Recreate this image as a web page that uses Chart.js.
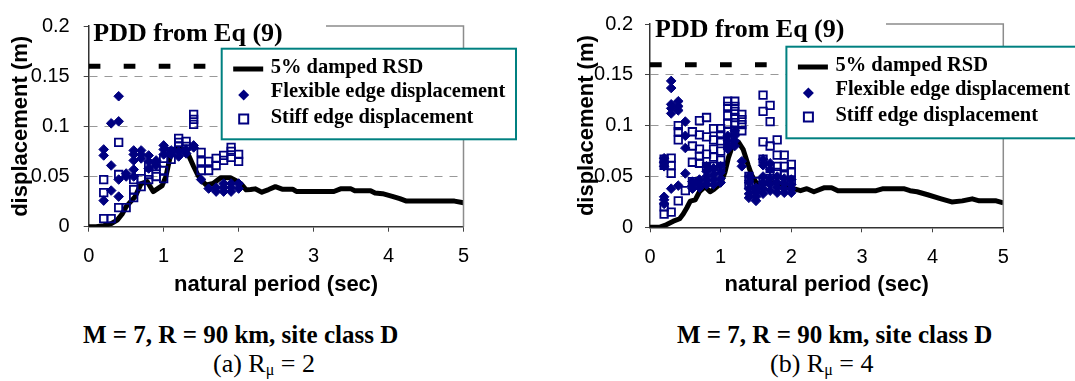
<!DOCTYPE html>
<html>
<head>
<meta charset="utf-8">
<title>PDD vs RSD</title>
<script src="https://cdn.jsdelivr.net/npm/chart.js@4.4.0/dist/chart.umd.min.js"></script>
<style>
    body { margin: 0; background: #fff; }
    #wrap { position: relative; width: 1075px; height: 381px; overflow: hidden; background: #fff; }
    #wrap canvas { position: absolute; top: 0; }
    #chartA { left: 0; }
    #chartB { left: 535px; }
    .cap {
        position: absolute;
        font-family: 'Liberation Serif', 'Times New Roman', serif;
        font-size: 25px;
        line-height: 1;
        color: #000;
        white-space: nowrap;
    }
    .cap.head { font-weight: bold; }
    .cap.sub2 { font-size: 26px; }
    .cap sub { font-size: 16px; line-height: 0; vertical-align: -3px; }
</style>
</head>
<body>
<div id="wrap">
    <canvas id="chartA" width="535" height="300"></canvas>
    <canvas id="chartB" width="540" height="300"></canvas>
    <div class="cap head" style="left:83px; top:322px">M = 7, R = 90 km, site class D</div>
    <div class="cap sub2" style="left:213px; top:351px">(a) R<sub>μ</sub> = 2</div>
    <div class="cap head" style="left:677px; top:322px">M = 7, R = 90 km, site class D</div>
    <div class="cap sub2" style="left:770px; top:351px">(b) R<sub>μ</sub> = 4</div>
</div>

<script>
// ============================================
// Data
// ============================================

// PDD from Eq (9), horizontal level
const pddT = [0, 5];
const pddD = [0.16, 0.16];

// 5% damped RSD, R_mu = 2
const rsdA_T = [0, 0.1, 0.2, 0.3, 0.38, 0.45, 0.5, 0.56, 0.62, 0.7, 0.78, 0.86, 0.92, 0.98,
    1.03, 1.07, 1.11, 1.2, 1.3, 1.34, 1.4, 1.46, 1.52, 1.57, 1.66, 1.76, 1.89, 1.96, 2.03,
    2.1, 2.16, 2.22, 2.31, 2.4, 2.49, 2.58, 2.72, 2.77, 3.27, 3.36, 3.5, 3.55, 3.76, 3.82,
    3.92, 4.05, 4.15, 4.24, 4.88, 5.0];
const rsdA_D = [0, 0, 0.001, 0.003, 0.0065, 0.013, 0.02, 0.025, 0.03, 0.043, 0.045, 0.035, 0.038, 0.041,
    0.05, 0.064, 0.0765, 0.078, 0.077, 0.07, 0.06, 0.051, 0.045, 0.0415, 0.043, 0.0488, 0.0488, 0.046, 0.043,
    0.0367, 0.037, 0.0377, 0.0344, 0.037, 0.0399, 0.0374, 0.0374, 0.0351, 0.0351, 0.0377, 0.0377, 0.0358, 0.0358, 0.0335,
    0.0329, 0.0303, 0.028, 0.0255, 0.0255, 0.0239];

// 5% damped RSD, R_mu = 4
const rsdB_T = [0, 0.13, 0.23, 0.33, 0.42, 0.47, 0.52, 0.57, 0.64, 0.7, 0.78, 0.85, 0.9, 1.0,
    1.06, 1.11, 1.18, 1.25, 1.32, 1.39, 1.44, 1.51, 1.59, 1.8, 1.98, 2.13, 2.22, 2.32, 2.47,
    2.57, 2.66, 3.2, 3.3, 3.59, 3.68, 3.78, 3.93, 4.12, 4.27, 4.42, 4.56, 4.66, 4.9, 5.0];
const rsdB_D = [0, 0, 0.0025, 0.006, 0.0084, 0.013, 0.019, 0.0257, 0.027, 0.035, 0.04, 0.035, 0.037, 0.043,
    0.054, 0.0685, 0.0827, 0.084, 0.0764, 0.061, 0.0511, 0.043, 0.043, 0.044, 0.039, 0.036, 0.038, 0.035, 0.039,
    0.039, 0.036, 0.036, 0.038, 0.038, 0.036, 0.035, 0.032, 0.028, 0.025, 0.026, 0.028, 0.026, 0.026, 0.024];

// natural periods of the analysed systems
const periods = [0.2, 0.3, 0.4, 0.5, 0.6, 0.7, 0.8, 0.9, 1.0, 1.1,
    1.2, 1.3, 1.4, 1.5, 1.6, 1.7, 1.8, 1.9, 2.0];

// edge displacements (m), one list per period, R_mu = 2
const flexA = [
    [0.077, 0.071, 0.026], [0.103, 0.061, 0.036], [0.130, 0.105, 0.047, 0.030], [0.053, 0.050],
    [0.076, 0.072, 0.066, 0.057, 0.050], [0.076, 0.072, 0.068], [0.071, 0.065, 0.058], [0.066, 0.061],
    [0.081, 0.077, 0.072], [0.076, 0.072], [0.075, 0.070], [0.077, 0.073], [0.081, 0.079],
    [0.047], [0.038], [0.039, 0.035], [0.043, 0.039, 0.035], [0.043, 0.039, 0.035], [0.043, 0.038]
];
const stiffA = [
    [0.047, 0.034, 0.008], [0.008], [0.084, 0.052, 0.019], [0.019],
    [0.047, 0.037, 0.029], [0.048, 0.040], [0.061, 0.052, 0.047], [0.060, 0.050],
    [0.068, 0.056, 0.048], [0.075, 0.067], [0.088, 0.084, 0.080], [0.085, 0.080], [0.112, 0.107, 0.102],
    [0.074, 0.065, 0.056], [0.065, 0.056], [0.068, 0.061], [0.071, 0.066], [0.079, 0.075, 0.069], [0.072, 0.065]
];

// edge displacements (m), one list per period, R_mu = 4
const flexB = [
    [0.068, 0.064, 0.060, 0.030, 0.027, 0.023], [0.144, 0.137, 0.121, 0.117, 0.112, 0.038],
    [0.124, 0.119, 0.115, 0.041], [0.104, 0.090, 0.078, 0.053], [0.045, 0.041, 0.038],
    [0.047, 0.043, 0.039], [0.060, 0.055, 0.050, 0.046, 0.042], [0.058, 0.052, 0.047, 0.042],
    [0.060, 0.054, 0.048, 0.044], [0.090, 0.085, 0.080, 0.077], [0.095, 0.090, 0.085, 0.080],
    [0.065, 0.060], [0.050, 0.044, 0.038, 0.033, 0.029], [0.039, 0.035, 0.030, 0.026],
    [0.067, 0.061, 0.050, 0.044, 0.038, 0.033], [0.063, 0.057, 0.048, 0.042, 0.036],
    [0.050, 0.044, 0.039, 0.034], [0.048, 0.043, 0.038, 0.034], [0.047, 0.042, 0.038, 0.034]
];
const stiffB = [
    [0.067, 0.061, 0.020, 0.013], [0.068, 0.061, 0.053, 0.015], [0.100, 0.094, 0.086, 0.026], [0.036],
    [0.094, 0.080, 0.064, 0.045], [0.105, 0.091, 0.077, 0.070, 0.063], [0.108, 0.089, 0.072, 0.060],
    [0.097, 0.086, 0.077, 0.069, 0.060], [0.097, 0.091, 0.085, 0.075, 0.066, 0.060],
    [0.124, 0.119, 0.110, 0.102, 0.094, 0.086], [0.124, 0.119, 0.114, 0.108, 0.103, 0.095],
    [0.111, 0.106, 0.101, 0.095], [0.050, 0.042], [0.045, 0.037], [0.130, 0.114, 0.084, 0.067, 0.045],
    [0.120, 0.104, 0.080, 0.058, 0.048], [0.086, 0.071, 0.060, 0.054], [0.071, 0.060, 0.051], [0.062, 0.054, 0.046]
];

// ============================================
// Styles
// ============================================
const SANS = "'Liberation Sans', Arial, sans-serif";
const SERIF = "'Liberation Serif', 'Times New Roman', serif";
const NAVY = '#000080';
const tickFont = { family: SANS, size: 20 };
const axisTitleFont = { family: SANS, size: 22, weight: 'bold' };

function toLine(ts, ds) {
    return ts.map((t, i) => ({ x: t, y: ds[i] }));
}

function toPoints(ts, lists) {
    const pts = [];
    ts.forEach((t, i) => lists[i].forEach(d => pts.push({ x: t, y: d })));
    return pts;
}

// ============================================
// Frame, title and legend box drawn over the plot
// ============================================
const decorPlugin = {
    id: 'decor',
    afterDraw(chart, args, o) {
        const { ctx, chartArea: a } = chart;
        ctx.save();

        // grey top / right frame
        ctx.strokeStyle = '#8c8c8c';
        ctx.lineWidth = 1.5;
        ctx.beginPath();
        ctx.moveTo(o.frameStart, a.top);
        ctx.lineTo(a.right, a.top);
        ctx.lineTo(a.right, a.bottom);
        ctx.stroke();

        // PDD label
        ctx.fillStyle = '#000';
        ctx.font = `bold 26px ${SERIF}`;
        ctx.textBaseline = 'alphabetic';
        ctx.fillText('PDD from Eq (9)', o.titleX, o.titleY);

        // legend box
        const L = o.legend;
        ctx.fillStyle = '#fff';
        ctx.fillRect(L.x, L.y, L.w, L.h);
        ctx.strokeStyle = '#008080';
        ctx.lineWidth = 2;
        ctx.strokeRect(L.x, L.y, L.w, L.h);

        const ds = chart.data.datasets;

        // RSD line sample
        ctx.strokeStyle = ds[1].borderColor;
        ctx.lineWidth = 5;
        ctx.beginPath();
        ctx.moveTo(L.x + 11.5, L.y + 20.3);
        ctx.lineTo(L.x + 41.5, L.y + 20.3);
        ctx.stroke();

        // diamond sample
        const dx = L.x + 22, dy = L.y + 46.3, r = 5.5;
        ctx.fillStyle = ds[2].pointBackgroundColor;
        ctx.beginPath();
        ctx.moveTo(dx, dy - r);
        ctx.lineTo(dx + r, dy);
        ctx.lineTo(dx, dy + r);
        ctx.lineTo(dx - r, dy);
        ctx.closePath();
        ctx.fill();

        // square sample
        ctx.strokeStyle = ds[3].pointBorderColor;
        ctx.lineWidth = 2;
        ctx.strokeRect(L.x + 22 - 4.5, L.y + 70.3 - 4.5, 9, 9);

        ctx.fillStyle = '#000';
        ctx.font = `bold 20.5px ${SERIF}`;
        ctx.fillText(ds[1].label, L.x + 49, L.y + 24);
        ctx.fillText(ds[2].label, L.x + 49, L.y + 48.6);
        ctx.fillText(ds[3].label, L.x + 49, L.y + 74.6);

        ctx.restore();
    }
};

// ============================================
// Build one panel
// ============================================
function buildChart(canvasId, p) {
    return new Chart(document.getElementById(canvasId), {
        type: 'scatter',
        data: {
            datasets: [
                {
                    label: 'PDD from Eq (9)',
                    data: toLine(pddT, pddD),
                    showLine: true,
                    borderColor: '#000',
                    borderWidth: 5,
                    borderDash: [11.7, 23.3],
                    borderCapStyle: 'butt',
                    pointRadius: 0,
                    order: 4
                },
                {
                    label: '5% damped RSD',
                    data: toLine(p.rsdT, p.rsdD),
                    showLine: true,
                    borderColor: '#000',
                    borderWidth: 5,
                    borderJoinStyle: 'round',
                    pointRadius: 0,
                    order: 3
                },
                {
                    label: 'Flexible edge displacement',
                    data: toPoints(periods, p.flex),
                    pointStyle: 'rectRot',
                    pointRadius: 4.8,
                    pointBackgroundColor: NAVY,
                    pointBorderColor: NAVY,
                    pointBorderWidth: 1,
                    order: 2
                },
                {
                    label: 'Stiff edge displacement',
                    data: toPoints(periods, p.stiff),
                    pointStyle: 'rect',
                    pointRadius: 5.3,
                    pointBackgroundColor: 'rgba(255,255,255,0)',
                    pointBorderColor: NAVY,
                    pointBorderWidth: 1.8,
                    order: 1
                }
            ]
        },
        options: {
            responsive: false,
            animation: false,
            events: [],
            layout: { padding: { left: p.padLeft, top: p.top, right: p.padRight, bottom: 0 } },
            plugins: {
                legend: { display: false },
                tooltip: { enabled: false },
                decor: p.decor
            },
            scales: {
                x: {
                    type: 'linear',
                    min: 0,
                    max: 5,
                    afterFit: s => { s.height = p.xHeight; },
                    ticks: { stepSize: 1, font: tickFont, color: '#000', padding: 13 },
                    grid: { drawOnChartArea: false, tickColor: '#444', tickLength: 5 },
                    border: { color: '#333', width: 1.5 },
                    title: {
                        display: true,
                        text: 'natural period (sec)',
                        font: axisTitleFont,
                        color: '#000',
                        padding: { top: 0, bottom: 2 }
                    }
                },
                y: {
                    type: 'linear',
                    min: 0,
                    max: 0.2,
                    afterFit: s => { s.width = 88.7; },
                    ticks: {
                        stepSize: 0.05,
                        font: tickFont,
                        color: '#000',
                        padding: p.yPad,
                        callback: v => String(Number(v.toFixed(2)))
                    },
                    grid: {
                        color: c => (c.tick && c.tick.value > 0.01 && c.tick.value < 0.19) ? '#999' : 'rgba(0,0,0,0)',
                        lineWidth: 1,
                        tickColor: '#444',
                        tickLength: 5
                    },
                    border: { color: '#333', width: 1.5, dash: [8, 7] },
                    title: {
                        display: true,
                        text: 'displacement (m)',
                        font: axisTitleFont,
                        color: '#000',
                        padding: { top: p.yTitlePad, bottom: 0 }
                    }
                }
            }
        },
        plugins: [decorPlugin]
    });
}

// ============================================
// Panels (a) R_mu = 2 and (b) R_mu = 4
// ============================================
buildChart('chartA', {
    rsdT: rsdA_T, rsdD: rsdA_D, flex: flexA, stiff: stiffA,
    padLeft: 0, padRight: 535 - 463.5, top: 17.5, xHeight: 300 - 226.7,
    yPad: 14, yTitlePad: 7.5,
    decor: { frameStart: 326, titleX: 93.3, titleY: 40.7,
             legend: { x: 221.7, y: 48.7, w: 294.3, h: 90.6 } }
});

buildChart('chartB', {
    rsdT: rsdB_T, rsdD: rsdB_D, flex: flexB, stiff: stiffB,
    padLeft: 115 - 88.7, padRight: 540 - 468.3, top: 16, xHeight: 300 - 227.3,
    yPad: 12, yTitlePad: 12,
    decor: { frameStart: 351, titleX: 120, titleY: 37,
             legend: { x: 251.4, y: 46.7, w: 294.3, h: 91.6 } }
});
</script>
</body>
</html>
